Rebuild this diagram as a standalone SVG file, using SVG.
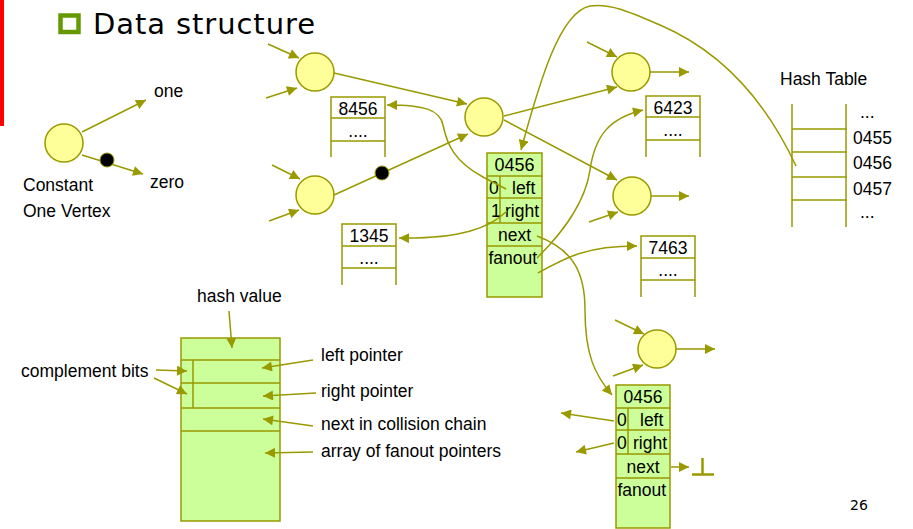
<svg xmlns="http://www.w3.org/2000/svg" width="913" height="529" viewBox="0 0 913 529">
<defs>
<marker id="ah" viewBox="0 0 10 10" refX="10" refY="5" markerWidth="11" markerHeight="10" markerUnits="userSpaceOnUse" orient="auto">
<path d="M0,0 L10,5 L0,10 z" fill="#999900"/>
</marker>
<style>
text{font-family:"Liberation Sans",Arial,sans-serif;font-size:17.5px;fill:#000}
.c{text-anchor:middle}
.v{fill:#ffff99;stroke:#999900;stroke-width:1.5}
.dot{fill:#000;stroke:#999900;stroke-width:1}
.e{fill:none;stroke:#999900;stroke-width:1.5;marker-end:url(#ah)}
.l{fill:none;stroke:#999900;stroke-width:1.5}
.g{fill:#ccff99;stroke:#999900;stroke-width:1.5}
</style>
</defs>
<rect x="0" y="0" width="4" height="126" fill="#ff0000"/>
<rect x="60.5" y="15.5" width="18" height="16.5" fill="none" stroke="#669900" stroke-width="4.5"/>
<text x="93" y="34" style="font-family:'DejaVu Sans',Verdana,sans-serif;font-size:29px" textLength="222">Data structure</text>
<text x="850" y="510" style="font-family:'DejaVu Sans',Verdana,sans-serif;font-size:14px">26</text>

<g id="constant">
<circle class="v" cx="64" cy="143" r="19"/>
<text x="154" y="97">one</text>
<text x="150" y="188">zero</text>
<text x="23" y="191">Constant</text>
<text x="23" y="217">One Vertex</text>
</g>
<g id="nodeA"><circle class="v" cx="315" cy="72" r="19"/></g>
<g id="nodeB"><circle class="v" cx="315" cy="195" r="19"/></g>
<g id="nodeC"><circle class="v" cx="484" cy="117" r="19"/></g>
<g id="nodeD"><circle class="v" cx="631" cy="72" r="19"/></g>
<g id="nodeE"><circle class="v" cx="632" cy="196" r="19"/></g>
<g id="nodeF"><circle class="v" cx="657" cy="349" r="19"/></g>

<g id="box8456">
<path class="l" d="M331,157 V97 H385 V157 M331,118 H385 M331,141 H385"/>
<text class="c" x="358" y="115">8456</text>
<text class="c" x="358" y="137">....</text>
</g>
<g id="box1345">
<path class="l" d="M342,285 V224 H396 V285 M342,246 H396 M342,268 H396"/>
<text class="c" x="369" y="242">1345</text>
<text class="c" x="369" y="264">....</text>
</g>
<g id="box6423">
<path class="l" d="M646,157 V96 H700 V157 M646,117 H700 M646,140 H700"/>
<text class="c" x="673" y="114">6423</text>
<text class="c" x="673" y="136">....</text>
</g>
<g id="box7463">
<path class="l" d="M641,297 V236 H695 V297 M641,258 H695 M641,280 H695"/>
<text class="c" x="668" y="254">7463</text>
<text class="c" x="668" y="276">....</text>
</g>

<g id="node0456a">
<rect class="g" x="487" y="153" width="55" height="144"/>
<path class="l" d="M487,176 H542 M487,198 H542 M487,223 H542 M487,246 H542 M500,176 V223"/>
<text class="c" x="514.5" y="171" style="font-size:18px">0456</text>
<text x="489" y="194">0</text>
<text x="512" y="194">left</text>
<text x="491" y="217">1</text>
<text x="505" y="217">right</text>
<text class="c" x="514.5" y="241">next</text>
<text x="488.5" y="264">fanout</text>
</g>

<g id="node0456b">
<rect class="g" x="616" y="385" width="54" height="143"/>
<path class="l" d="M616,408 H670 M616,430 H670 M616,454 H670 M616,478 H670 M628,408 V454"/>
<text class="c" x="643" y="403">0456</text>
<text x="617" y="426">0</text>
<text x="640" y="426">left</text>
<text x="617" y="449">0</text>
<text x="633" y="449">right</text>
<text class="c" x="643" y="473">next</text>
<text x="617.5" y="496">fanout</text>
</g>

<g id="hashtable">
<text x="780" y="85">Hash Table</text>
<path class="l" d="M792,104 V227 M846,104 V227 M792,129 H847 M792,152 H847 M792,177 H847 M792,200 H847"/>
<text x="860" y="118">...</text>
<text x="853" y="144">0455</text>
<text x="853" y="169">0456</text>
<text x="853" y="195">0457</text>
<text x="860" y="218">...</text>
</g>

<g id="legend">
<rect class="g" x="181" y="338" width="99" height="183"/>
<path class="l" d="M181,360 H280 M181,383 H280 M181,408 H280 M181,431 H280 M193,360 V408"/>
<text x="197" y="302">hash value</text>
<text x="321" y="361">left pointer</text>
<text x="21" y="377">complement bits</text>
<text x="321" y="397">right pointer</text>
<text x="321" y="430">next in collision chain</text>
<text x="321" y="457">array of fanout pointers</text>
</g>

<g id="connectors">
<line class="e" x1="82" y1="132" x2="146" y2="100"/>
<line class="e" x1="82" y1="155" x2="143" y2="174"/>
<circle class="dot" cx="107" cy="160" r="7"/>
<line class="e" x1="268" y1="44" x2="299" y2="58"/>
<line class="e" x1="266" y1="98" x2="297" y2="88"/>
<line class="e" x1="334" y1="73" x2="467" y2="104"/>
<line class="e" x1="272" y1="165" x2="300" y2="179"/>
<line class="e" x1="269" y1="221" x2="299" y2="210"/>
<line class="e" x1="334" y1="195" x2="468" y2="134"/>
<circle class="dot" cx="382" cy="173" r="7"/>
<line class="e" x1="504" y1="116" x2="617" y2="87"/>
<line class="e" x1="504" y1="120" x2="617" y2="180"/>
<line class="e" x1="587" y1="42" x2="617" y2="57"/>
<line class="e" x1="650" y1="72" x2="689" y2="72"/>
<line class="e" x1="589" y1="222" x2="618" y2="212"/>
<line class="e" x1="651" y1="196" x2="689" y2="196"/>
<line class="e" x1="615" y1="320" x2="644" y2="334"/>
<line class="e" x1="613" y1="376" x2="643" y2="365"/>
<line class="e" x1="676" y1="349" x2="715" y2="349"/>
<path class="e" d="M506,189 L483,177 C455,162 447,145 443,125 C440,110 425,105 387,105"/>
<path class="e" d="M507,211 C490,228 460,239 399,238"/>
<path class="e" d="M796,166 C770,110 730,55 660,25 C630,12 610,3 590,6 C560,12 540,80 521,150"/>
<path class="e" d="M537,258 C560,235 585,205 590,170 C595,135 610,118 643,110"/>
<path class="e" d="M537,236 C575,250 585,275 585,310 C585,355 595,375 612,395"/>
<path class="e" d="M538,273 C565,258 585,246 637,246"/>
<line class="e" x1="614" y1="421" x2="561" y2="413"/>
<line class="e" x1="614" y1="443" x2="576" y2="452"/>
<line class="e" x1="671" y1="467" x2="689" y2="467"/>
<line x1="692" y1="474.5" x2="714" y2="474.5" stroke="#999900" stroke-width="2.5"/>
<line x1="702.5" y1="458" x2="702.5" y2="474" stroke="#999900" stroke-width="2.5"/>
<line class="e" x1="229" y1="311" x2="232" y2="348"/>
<line class="e" x1="313" y1="360" x2="262" y2="368"/>
<line class="e" x1="156" y1="370" x2="187" y2="371"/>
<line class="e" x1="154" y1="378" x2="187" y2="394"/>
<line class="e" x1="316" y1="393" x2="263" y2="396"/>
<line class="e" x1="313" y1="426" x2="263" y2="419"/>
<line class="e" x1="313" y1="452" x2="265" y2="453"/>
</g>
</svg>
